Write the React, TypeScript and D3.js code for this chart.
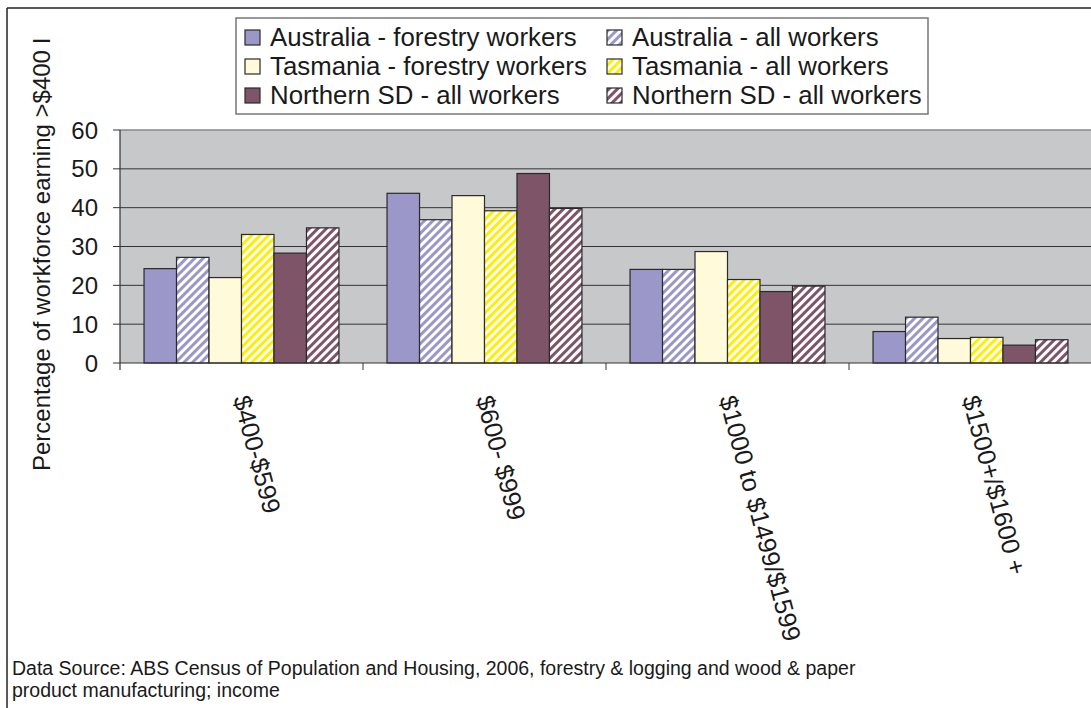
import React from "react";
import * as d3 from "d3";

const categories = ["$400-$599", "$600- $999", "$1000 to $1499/$1599", "$1500+/$1600 +"];
const seriesNames = [
  "Australia - forestry workers",
  "Australia - all workers",
  "Tasmania - forestry workers",
  "Tasmania - all workers",
  "Northern SD - all workers",
  "Northern SD - all workers",
];
const ausForestry = [24.3, 43.7, 24.1, 8.1];
const ausAll = [27.2, 36.9, 24.1, 11.8];
const tasForestry = [22.0, 43.1, 28.7, 6.3];
const tasAll = [33.1, 39.2, 21.5, 6.6];
const northSolid = [28.3, 48.8, 18.4, 4.6];
const northHatched = [34.8, 39.8, 19.8, 6.0];
const yTicks = [0, 10, 20, 30, 40, 50, 60];
const footnote = [
  "Data Source: ABS Census of Population and Housing, 2006, forestry & logging and wood & paper",
  "product manufacturing; income",
];
const yTitle = "Percentage of workforce earning >$400 l";

const seriesValues = [ausForestry, ausAll, tasForestry, tasAll, northSolid, northHatched];
const fills = ["#9b97c9", "url(#hAus)", "#fffbda", "url(#hTas)", "#7e5468", "url(#hNor)"];

const W = 1091;
const H = 708;
const plot = { left: 120, right: 1092, top: 130, bottom: 363 };

export default function App() {
  const x0 = d3.scaleBand<string>().domain(categories).range([plot.left, plot.right]).padding(0);
  const x1 = d3
    .scaleBand<number>()
    .domain(d3.range(seriesValues.length))
    .range([0, x0.bandwidth()])
    .paddingInner(0)
    .paddingOuter(0.74);
  const y = d3.scaleLinear().domain([0, 60]).range([plot.bottom, plot.top]);
  const font = "'Liberation Sans', Arial, sans-serif";

  const legendRows = [0, 1, 2];
  return (
    <svg
      width={W}
      height={H}
      style={{ position: "absolute", left: 0, top: 0, background: "#fff" }}
      fontFamily={font}
    >
      <defs>
        {[
          ["hAus", "#9b97c9"],
          ["hTas", "#ffee00"],
          ["hNor", "#7e5468"],
        ].map(([id, c]) => (
          <pattern
            key={id}
            id={id}
            patternUnits="userSpaceOnUse"
            width={6}
            height={6}
            patternTransform="rotate(45)"
          >
            <rect width={6} height={6} fill="#fff" />
            <rect width={3} height={6} fill={c} />
          </pattern>
        ))}
      </defs>
      <rect width={W} height={H} fill="#fff" />
      {/* outer border */}
      <line x1={7} y1={8} x2={W} y2={8} stroke="#222" strokeWidth={1.5} />
      <line x1={7} y1={8} x2={7} y2={H} stroke="#222" strokeWidth={1.5} />

      {/* plot area */}
      <rect
        x={plot.left}
        y={plot.top}
        width={plot.right - plot.left}
        height={plot.bottom - plot.top}
        fill="#c7c8ca"
      />
      <line x1={plot.left} y1={plot.top} x2={plot.right} y2={plot.top} stroke="#888" strokeWidth={1.5} />
      {yTicks.map((t) => (
        <g key={t}>
          {t > 0 && t < 60 && (
            <line x1={plot.left} x2={plot.right} y1={y(t)} y2={y(t)} stroke="#333" strokeWidth={1} />
          )}
          <line x1={113} x2={plot.left} y1={y(t)} y2={y(t)} stroke="#333" strokeWidth={1} />
          <text x={98} y={y(t)} dy="0.36em" textAnchor="end" fontSize={24} fill="#1a1a1a">
            {t}
          </text>
        </g>
      ))}

      {/* bars */}
      {categories.map((c, ci) => (
        <g key={c} transform={`translate(${x0(c)},0)`}>
          {seriesValues.map((vals, si) => (
            <rect
              key={si}
              x={x1(si)}
              y={y(vals[ci])}
              width={x1.bandwidth()}
              height={y(0) - y(vals[ci])}
              fill={fills[si]}
              stroke="#2a2a2a"
              strokeWidth={1.2}
            />
          ))}
        </g>
      ))}

      {/* axes */}
      <line x1={plot.left} x2={plot.right} y1={plot.bottom} y2={plot.bottom} stroke="#333" strokeWidth={1.2} />
      <line x1={plot.left} x2={plot.left} y1={plot.top} y2={plot.bottom + 7} stroke="#333" strokeWidth={1.2} />
      {categories.slice(1).map((c) => (
        <line
          key={c}
          x1={x0(c)!}
          x2={x0(c)!}
          y1={plot.bottom}
          y2={plot.bottom + 7}
          stroke="#333"
          strokeWidth={1}
        />
      ))}
      {categories.map((c) => {
        const cx = x0(c)! + x0.bandwidth() / 2;
        return (
          <text
            key={c}
            transform={`translate(${cx},${396}) rotate(75)`}
            dy="0.35em"
            textAnchor="start"
            fontSize={25.3}
            fill="#1a1a1a"
          >
            {c}
          </text>
        );
      })}

      {/* y title */}
      <text
        transform={`translate(50,471) rotate(-90)`}
        textAnchor="start"
        fontSize={24}
        fill="#1a1a1a"
      >
        {yTitle}
      </text>

      {/* legend */}
      <rect x={236} y={18} width={692} height={96} fill="#fff" stroke="#777" strokeWidth={1.5} />
      {legendRows.map((r) =>
        [0, 1].map((col) => {
          const si = r * 2 + col;
          const sx = col === 0 ? 245 : 607;
          const sy = 30 + r * 29;
          return (
            <g key={si}>
              <rect x={sx} y={sy} width={15} height={15} fill={fills[si]} stroke="#2a2a2a" strokeWidth={1.2} />
              <text x={sx + 25} y={sy + 16} fontSize={25.8} fill="#1a1a1a">
                {seriesNames[si]}
              </text>
            </g>
          );
        })
      )}

      {/* footnote */}
      {footnote.map((line, i) => (
        <text key={i} x={12} y={675 + i * 22} fontSize={19.5} fill="#1a1a1a">
          {line}
        </text>
      ))}
    </svg>
  );
}
